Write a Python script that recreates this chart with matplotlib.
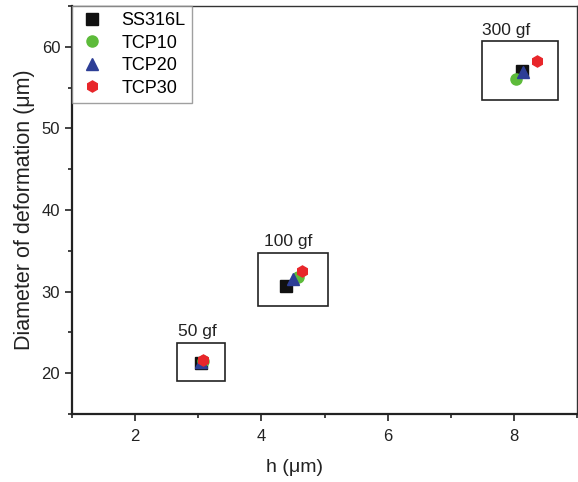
import matplotlib
matplotlib.use("Agg")
import matplotlib.pyplot as plt
from matplotlib.patches import Rectangle
from matplotlib.ticker import MultipleLocator

plt.rcParams['font.family'] = ['Liberation Sans', 'DejaVu Sans']

series = ["SS316L", "TCP10", "TCP20", "TCP30"]
h_vals = {
    "SS316L": [3.04, 4.39, 8.13],
    "TCP10": [3.07, 4.58, 8.03],
    "TCP20": [3.05, 4.50, 8.15],
    "TCP30": [3.08, 4.65, 8.36],
}
d_vals = {
    "SS316L": [21.3, 30.7, 57.0],
    "TCP10": [21.5, 31.8, 56.1],
    "TCP20": [21.4, 31.6, 56.9],
    "TCP30": [21.6, 32.5, 58.3],
}
load_labels = ["50 gf", "100 gf", "300 gf"]
label_x = [2.68, 4.04, 7.49]
box_x0 = [2.66, 3.95, 7.49]
box_x1 = [3.43, 5.06, 8.70]
box_y0 = [19.05, 28.2, 53.5]
box_y1 = [23.7, 34.76, 60.65]

colors = {"SS316L": "#111111", "TCP10": "#5dbb3a", "TCP20": "#2d3e96", "TCP30": "#e8262a"}
markers = {"SS316L": "s", "TCP10": "o", "TCP20": "^", "TCP30": "h"}

fig = plt.figure(figsize=(5.78, 4.82), dpi=100)
ax = fig.add_axes([72/578, 1-414/482, (577-72)/578, (414-6)/482])

for s in series:
    ax.plot(h_vals[s], d_vals[s], linestyle="none", marker=markers[s],
            color=colors[s], markersize=8, label=s, zorder=3)

for lab, lx, x0, x1, y0, y1 in zip(load_labels, label_x, box_x0, box_x1, box_y0, box_y1):
    ax.add_patch(Rectangle((x0, y0), x1 - x0, y1 - y0, fill=False,
                           edgecolor="#222222", linewidth=1.2, zorder=2))
    ax.text(lx, y1 + 0.45, lab, fontsize=12.5, ha="left", va="bottom", color="#222222")

ax.set_xlim(1, 9)
ax.set_ylim(15, 65)
ax.xaxis.set_major_locator(MultipleLocator(2))
ax.xaxis.set_minor_locator(MultipleLocator(1))
ax.yaxis.set_major_locator(MultipleLocator(10))
ax.yaxis.set_minor_locator(MultipleLocator(5))
ax.tick_params(which="both", direction="out", top=False, right=False,
               labelsize=12, colors="#222222", width=1.2)
ax.tick_params(which="major", length=5)
ax.tick_params(which="minor", length=3)
ax.tick_params(axis="x", which="major", pad=6)
for sp in ["left", "bottom"]:
    ax.spines[sp].set_linewidth(1.6)
    ax.spines[sp].set_color("#222222")
for sp in ["top", "right"]:
    ax.spines[sp].set_linewidth(1.0)
    ax.spines[sp].set_color("#333333")

ax.set_xlabel("h (\u03bcm)", fontsize=14, color="#222222", labelpad=10)
ax.xaxis.set_label_coords(0.44, -0.11)
ax.set_ylabel("Diameter of deformation (\u03bcm)", fontsize=15.5, color="#222222", labelpad=5)

leg = ax.legend(loc="upper left", bbox_to_anchor=(0, 1), fontsize=13, frameon=True,
                fancybox=False, borderaxespad=0, handletextpad=0.9, labelspacing=0.3,
                borderpad=0.35, handlelength=1.5)
leg.get_frame().set_edgecolor("#888888")
leg.get_frame().set_linewidth(1.0)

fig.savefig("out.png", dpi=100)
